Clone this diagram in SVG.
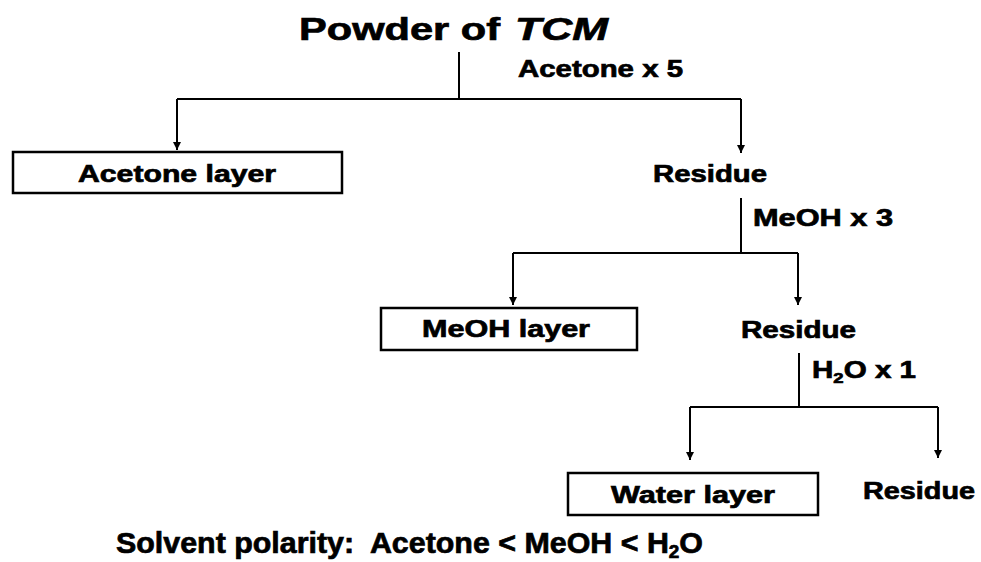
<svg xmlns="http://www.w3.org/2000/svg" width="981" height="562" viewBox="0 0 981 562">
<style>
text{font-family:"Liberation Sans",Arial,sans-serif;font-weight:bold;fill:#000;stroke:#000;stroke-width:0.7;white-space:pre}
.t{font-size:24px}
.box{fill:#fff;stroke:#000;stroke-width:2.5}
.ln{fill:none;stroke:#000;stroke-width:2}
</style>
<defs>
<marker id="ah" markerWidth="10" markerHeight="10" refX="8" refY="4" orient="auto" markerUnits="userSpaceOnUse">
<path d="M0,0 L8,4 L0,8 z" fill="#000"/>
</marker>
</defs>
<rect width="981" height="562" fill="#fff"/>
<g id="connectors">
<path class="ln" d="M459,52 V99"/>
<path class="ln" d="M177,99 H741"/>
<path class="ln" d="M177,99 V150" marker-end="url(#ah)"/>
<path class="ln" d="M741,99 V153" marker-end="url(#ah)"/>
<path class="ln" d="M741,198 V253"/>
<path class="ln" d="M513,253 H798"/>
<path class="ln" d="M513,253 V305" marker-end="url(#ah)"/>
<path class="ln" d="M798,253 V305" marker-end="url(#ah)"/>
<path class="ln" d="M799,353 V407"/>
<path class="ln" d="M690,407 H938"/>
<path class="ln" d="M690,407 V460" marker-end="url(#ah)"/>
<path class="ln" d="M938,407 V458" marker-end="url(#ah)"/>
</g>
<g id="title">
<text x="299" y="40" font-size="32" textLength="201" lengthAdjust="spacingAndGlyphs">Powder of</text>
<text x="515" y="40" font-size="32" font-style="italic" textLength="93" lengthAdjust="spacingAndGlyphs">TCM</text>
</g>
<g id="label-acetone">
<text class="t" x="518" y="77" textLength="165" lengthAdjust="spacingAndGlyphs">Acetone x 5</text>
</g>
<g id="acetone-layer">
<rect class="box" x="13" y="152" width="329" height="41"/>
<text class="t" x="78" y="182" textLength="198" lengthAdjust="spacingAndGlyphs">Acetone layer</text>
</g>
<g id="residue1">
<text class="t" x="653" y="182" textLength="114" lengthAdjust="spacingAndGlyphs">Residue</text>
</g>
<g id="label-meoh">
<text class="t" x="753" y="226" textLength="140" lengthAdjust="spacingAndGlyphs">MeOH x 3</text>
</g>
<g id="meoh-layer">
<rect class="box" x="381" y="308" width="256" height="42"/>
<text class="t" x="422" y="337" textLength="168" lengthAdjust="spacingAndGlyphs">MeOH layer</text>
</g>
<g id="residue2">
<text class="t" x="741" y="338" textLength="115" lengthAdjust="spacingAndGlyphs">Residue</text>
</g>
<g id="label-h2o">
<text class="t" x="812" y="378" textLength="104" lengthAdjust="spacingAndGlyphs">H<tspan font-size="15" dy="5">2</tspan><tspan dy="-5">O x 1</tspan></text>
</g>
<g id="water-layer">
<rect class="box" x="568" y="473" width="250" height="42"/>
<text class="t" x="611" y="503" textLength="164" lengthAdjust="spacingAndGlyphs">Water layer</text>
</g>
<g id="residue3">
<text class="t" x="863" y="499" textLength="112" lengthAdjust="spacingAndGlyphs">Residue</text>
</g>
<g id="polarity">
<text x="116" y="553" font-size="29" textLength="587" lengthAdjust="spacingAndGlyphs">Solvent polarity:  Acetone &lt; MeOH &lt; H<tspan font-size="18" dy="5">2</tspan><tspan dy="-5">O</tspan></text>
</g>
</svg>
